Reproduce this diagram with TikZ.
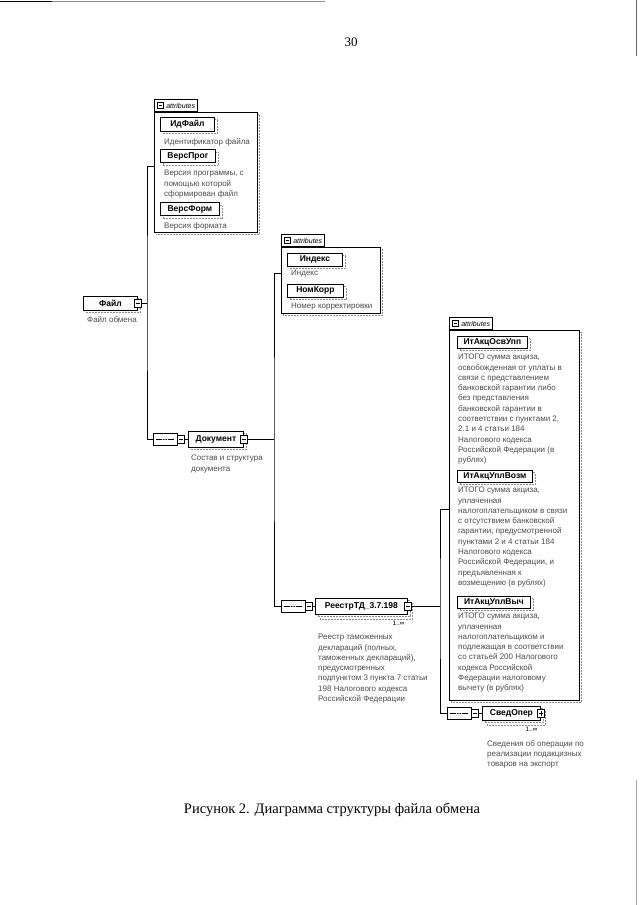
\documentclass[tikz,border=0pt]{standalone}
\usepackage{fontspec}
\setmainfont{Liberation Serif}
\newfontfamily\xsdfont{Liberation Sans}
\usetikzlibrary{positioning,shapes.misc,shadows}

\begin{document}
\begin{tikzpicture}[x=1pt,y=-1pt,
  elembase/.style={draw,line width=0.8pt,fill=white,anchor=west,minimum height=14pt,inner sep=1pt,
    font=\xsdfont\bfseries\fontsize{8.5}{9}\selectfont},
  elem/.style={elembase,copy shadow={shadow xshift=2.5pt,shadow yshift=-2.5pt,draw=black!45,densely dotted,line width=0.5pt,fill=white}},
  elemmulti/.style={elembase,double copy shadow={shadow xshift=2.5pt,shadow yshift=-2.5pt,draw=black!45,densely dotted,line width=0.5pt,fill=white}},
  desc/.style={anchor=north west,inner sep=0pt,align=left,text=black!70,font=\xsdfont\fontsize{8}{10.3}\selectfont},
  btn/.style={draw,line width=0.6pt,fill=white,minimum width=7pt,minimum height=8pt,inner sep=0pt,
    path picture={\draw[line width=0.6pt] ([xshift=1.5pt]path picture bounding box.west) -- ([xshift=-1.5pt]path picture bounding box.east);}},
  btnplus/.style={draw,line width=0.6pt,fill=white,minimum width=7pt,minimum height=8pt,inner sep=0pt,
    path picture={\draw[line width=0.6pt] ([xshift=1.5pt]path picture bounding box.west) -- ([xshift=-1.5pt]path picture bounding box.east);
      \draw[line width=0.6pt] ([yshift=1.5pt]path picture bounding box.south) -- ([yshift=-1.5pt]path picture bounding box.north);}},
  seq/.style={chamfered rectangle,chamfered rectangle xsep=3pt,draw,line width=0.6pt,fill=white,
    minimum width=24pt,minimum height=12pt,inner sep=0pt,
    path picture={\draw[line width=0.5pt] ([xshift=3pt]path picture bounding box.west) -- ([xshift=-3pt]path picture bounding box.east);
      \foreach \d in {-2.5,0,2.5} \fill ([xshift=\d pt]path picture bounding box.center) circle (0.9pt);}},
  attrbox/.style={draw,line width=0.6pt,fill=white,anchor=north west,inner sep=0pt,
    copy shadow={shadow xshift=2pt,shadow yshift=-2pt,draw=black!45,densely dotted,line width=0.5pt,fill=white}},
  attrtab/.style={draw,line width=0.6pt,fill=white,anchor=south west,inner xsep=2pt,inner ysep=0pt,minimum height=12pt,
    font=\xsdfont\itshape\fontsize{7}{8}\selectfont},
  tabbtn/.style={btn,minimum width=6pt,minimum height=6pt},
  trunk/.style={line width=0.8pt},
  card/.style={font=\xsdfont\fontsize{6.5}{7}\selectfont,anchor=north east,inner sep=0pt}
]
\useasboundingbox (0,0) rectangle (640,905);
% page edges
\draw[black!45,line width=1pt] (0,1.5) -- (325,1.5);
\draw[line width=1.2pt] (0,1.5) -- (52,1.5);
\draw[black!60,line width=0.8pt] (636,0) -- (636,56);
\draw[black!35,line width=0.6pt] (636,780) -- (636,905);
\node[font=\fontsize{13}{15}\selectfont] (pagenum) at (351,42) {30};

% Файл
\node[elem,minimum width=54pt] (fajl) at (83,303) {Файл};
\node[btn] (fajlbtn) at (fajl.east) {};
\node[desc] (fajldesc) at (87,316) {Файл обмена};

\node[attrbox,minimum width=103pt,minimum height=120pt] (attr1) at (154,112) {};
\node[attrtab] (tab1) at (attr1.north west) {\hspace*{10pt}attributes};
\node[tabbtn] at ([xshift=6pt]tab1.west) {};
\node[elem,minimum width=54pt] (idfajl) at (160,124) {ИдФайл};
\node[desc] (idfajldesc) at (164,138) {Идентификатор файла};
\node[elem,minimum width=55pt,minimum height=13pt] (versprog) at (160,156) {ВерсПрог};
\node[desc] (versprogdesc) at (164,170) {Версия программы, с\\помощью которой\\сформирован файл};
\node[elem,minimum width=59pt,minimum height=13pt] (versform) at (160,209) {ВерсФорм};
\node[desc] (versformdesc) at (164,222) {Версия формата};

% Документ
\coordinate (j1) at (147,303);
\node[seq] (seqdoc) at (165,439) {};
\node[btn,anchor=west] (seqdocbtn) at (seqdoc.east) {};
\node[elem,minimum width=55pt,minimum height=16pt] (doc) at (188,439) {Документ};
\node[btn] (docbtn) at (doc.east) {};
\node[desc] (docdesc) at (191,455) {Состав и структура\\документа};

\node[attrbox,minimum width=99pt,minimum height=66pt] (attr2) at (281,247) {};
\node[attrtab] (tab2) at (attr2.north west) {\hspace*{10pt}attributes};
\node[tabbtn] at ([xshift=6pt]tab2.west) {};
\node[elem,minimum width=55pt,minimum height=13pt] (index) at (287,259.5) {Индекс};
\node[desc] (indexdesc) at (291,270) {Индекс};
\node[elem,minimum width=56pt,minimum height=13pt] (nomkorr) at (287,290.5) {НомКорр};
\node[desc] (nomkorrdesc) at (291,303) {Номер корректировки};

% РеестрТД
\coordinate (j2) at (274,439);
\node[seq] (seqreg) at (293,606) {};
\node[btn,anchor=west] (seqregbtn) at (seqreg.east) {};
\node[elemmulti,minimum width=92pt,minimum height=16pt] (reg) at (315,606) {РеестрТД\_3.7.198};
\node[btn] (regbtn) at (reg.east) {};
\node[card] (regcard) at ([xshift=-3pt,yshift=-6pt]reg.south east) {1..∞};
\node[desc] (regdesc) at (318,634) {Реестр таможенных\\деклараций (полных,\\таможенных деклараций),\\предусмотренных\\подпунктом 3 пункта 7 статьи\\198 Налогового кодекса\\Российской Федерации};

\node[attrbox,minimum width=130pt,minimum height=370pt] (attr3) at (449,330) {};
\node[attrtab] (tab3) at (attr3.north west) {\hspace*{10pt}attributes};
\node[tabbtn] at ([xshift=6pt]tab3.west) {};
\node[elem,minimum width=70pt,minimum height=12pt] (itosv) at (457,342) {ИтАкцОсвУпп};
\node[desc] (itosvdesc) at (458,354) {ИТОГО сумма акциза,\\освобожденная от уплаты в\\связи с представлением\\банковской гарантии либо\\без представления\\банковской гарантии в\\соответствии с пунктами 2,\\2.1 и 4 статьи 184\\Налогового кодекса\\Российской Федерации (в\\рублях)};
\node[elem,minimum width=75pt,minimum height=12pt] (itvozm) at (457,476) {ИтАкцУплВозм};
\node[desc] (itvozmdesc) at (458,487) {ИТОГО сумма акциза,\\уплаченная\\налогоплательщиком в связи\\с отсутствием банковской\\гарантии, предусмотренной\\пунктами 2 и 4 статьи 184\\Налогового кодекса\\Российской Федерации, и\\предъявленная к\\возмещению (в рублях)};
\node[elem,minimum width=73pt,minimum height=12pt] (itvych) at (457,602) {ИтАкцУплВыч};
\node[desc] (itvychdesc) at (458,613) {ИТОГО сумма акциза,\\уплаченная\\налогоплательщиком и\\подлежащая в соответствии\\со статьей 200 Налогового\\кодекса Российской\\Федерации налоговому\\вычету (в рублях)};

% СведОпер
\coordinate (j3) at (440,606);
\node[seq] (seqsved) at (459,713) {};
\node[btn,anchor=west] (seqsvedbtn) at (seqsved.east) {};
\node[elemmulti,minimum width=58pt] (sved) at (482,713) {СведОпер};
\node[btnplus] (svedbtn) at (sved.east) {};
\node[card] (svedcard) at ([xshift=-3pt,yshift=-6pt]sved.south east) {1..∞};
\node[desc] (sveddesc) at (487,740) {Сведения об операции по\\реализации подакцизных\\товаров на экспорт};

% connectors
\draw[trunk] (fajlbtn) -- (j1);
\draw[trunk] ([yshift=6pt]attr1.west) -| (j1) |- (seqdoc);
\draw[trunk] (seqdocbtn) -- (doc);
\draw[trunk] (docbtn) -- (j2);
\draw[trunk] ([yshift=7pt]attr2.west) -| (j2) |- (seqreg);
\draw[trunk] (seqregbtn) -- (reg);
\draw[trunk] (regbtn) -- (j3);
\draw[trunk] ([yshift=6pt]attr3.west) -| (j3) |- (seqsved);
\draw[trunk] (seqsvedbtn) -- (sved);

\node[font=\fontsize{14.5}{17}\selectfont] (caption) at (332,810) {Рисунок 2. Диаграмма структуры файла обмена};
\end{tikzpicture}
\end{document}
